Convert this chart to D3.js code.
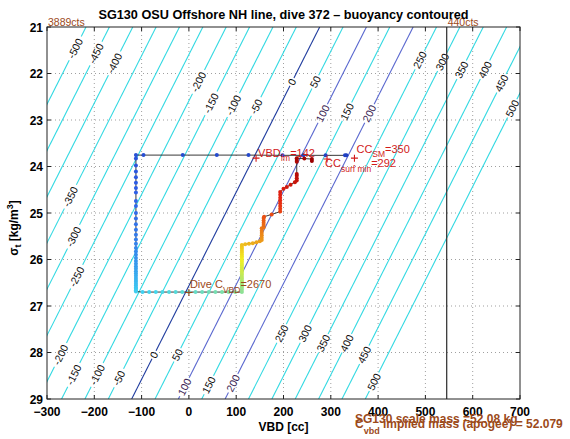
<!DOCTYPE html>
<html><head><meta charset="utf-8">
<script src="https://cdn.jsdelivr.net/npm/d3@7/dist/d3.min.js"></script>
<style>
body{margin:0;background:#fff;}
svg text{font-family:"Liberation Sans",Arial,Helvetica,sans-serif;}
</style></head>
<body>
<svg id="chart" width="570" height="439"></svg>
<script>
// ---------------- data ----------------
const xTicks = [-300,-200,-100,0,100,200,300,400,500,600,700];
const yTicks = [21,22,23,24,25,26,27,28,29];
const contourLevels = [-500,-450,-400,-350,-300,-250,-200,-150,-100,-50,0,50,100,150,200,250,300,350,400,450,500];
const contourVbdAtSigma21 = [-217.5,-168.1,-118.7,-69.3,-19.9,29.5,78.9,128.3,177.7,227.1,276.5,325.9,375.3,424.7,474.1,523.5,572.9,622.3,671.7,721.1,770.5];
const contourVbdAtSigma29 = [-615,-565.6,-516.2,-466.8,-417.4,-368,-318.6,-269.2,-219.8,-170.4,-121,-71.6,-22.2,27.2,76.6,126,175.4,224.8,274.2,323.6,373];
const contourLabelLevels = [-500,-450,-400,-200,-150,-100,-50,0,50,100,150,200,250,300,350,400,450,500,
                            -350,-300,-250,-200,-150,-100,-50,0,50,100,150,200,250,300,350,400,450,500];
const contourLabelSigma  = [21.46,21.57,21.78,22.18,22.64,22.68,22.71,22.18,22.18,22.86,22.82,22.86,21.71,21.75,21.92,21.92,22.21,22.75,
                            24.65,25.51,26.37,28.05,28.48,28.48,28.55,28.05,28.05,28.74,28.70,28.66,27.59,27.59,27.80,27.80,28.05,28.63];
const traceVbd = [333,330,289,242,198,126,59,-13,-96,-112,
  -112,-112,-112,-112,-112,-112,-112,-112,-112,-112,-112,-112,-112,-112,-112,-112,-112,-112,
  -112,-112,-112,-112,-112,-112,-112,-112,-112,-112,-112,-112,-112,-112,-112,-112,-112,-112,
  -98,-84,-70,-56,-42,-28,-14,0,14,28,42,56,70,84,98,112,
  112,112,112,112,112,112,112,112,112,112,112,112,112,112,112,112,112,112,112,112,112,112,112,112,112,
  119,127,135,143,150,154,
  154,154,154,154,154,
  158,158,158,158,158,159,
  175,
  193,193,193,193,193,193,193,193,
  200,207,215,224,
  228,228,228,228,
  228,228,228,244,260,260];
const traceSigma = [23.76,23.76,23.76,23.76,23.76,23.755,23.755,23.755,23.755,23.755,
  23.83,23.98,24.11,24.23,24.35,24.46,24.56,24.74,24.85,25.0,25.12,25.24,25.36,25.47,25.57,25.66,25.75,25.83,
  25.9,25.97,26.03,26.09,26.15,26.2,26.25,26.3,26.35,26.4,26.44,26.48,26.52,26.56,26.6,26.63,26.66,26.69,
  26.7,26.7,26.7,26.7,26.7,26.7,26.7,26.7,26.7,26.7,26.7,26.7,26.7,26.7,26.7,26.7,
  26.65,26.61,26.57,26.53,26.49,26.45,26.41,26.37,26.33,26.29,26.25,26.21,26.17,26.13,26.09,26.05,26.01,25.97,25.93,25.89,25.85,25.81,25.77,25.73,25.69,
  25.67,25.66,25.65,25.63,25.61,25.58,
  25.53,25.48,25.43,25.38,25.33,
  25.31,25.26,25.21,25.16,25.11,25.08,
  25.03,
  24.97,24.91,24.85,24.79,24.73,24.67,24.61,24.55,
  24.48,24.44,24.39,24.34,
  24.3,24.25,24.2,24.16,
  23.9,23.86,23.82,23.83,23.84,23.88];
const markName  = ["VBD","CC","CC","Dive C"];
const markSub   = ["fm","surf min","SM","VBD"];
const markValue = ["=142","=292","=350","=2670"];
const markVbd   = [142,292,350,0];
const markSigma = [23.82,23.84,23.82,26.71];
const countLineVbd = 545;
const countLabels = ["3889cts","440cts"];

// ---------------- layout ----------------
const X0=47, X1=520, Y0=27, Y1=399;
const svg = d3.select("#chart");
const x = d3.scaleLinear().domain([-300,700]).range([X0,X1]);
const y = d3.scaleLinear().domain([21,29]).range([Y0,Y1]);
const cyan="#33d9e2", navy="#1f3c9e", slate="#5a68cf", red="#d21a1a", brown="#9c4a1a";

const defs = svg.append("defs");
defs.append("clipPath").attr("id","plotClip").append("rect")
  .attr("x",X0).attr("y",Y0).attr("width",X1-X0).attr("height",Y1-Y0);

// grid
const grid = svg.append("g").attr("stroke","#777").attr("stroke-width",0.7).attr("stroke-dasharray","1,3");
grid.selectAll("line.gx").data(xTicks.slice(1,-1)).join("line")
  .attr("x1",d=>x(d)).attr("x2",d=>x(d)).attr("y1",Y0).attr("y2",Y1);
grid.selectAll("line.gy").data(yTicks.slice(1,-1)).join("line")
  .attr("y1",d=>y(d)).attr("y2",d=>y(d)).attr("x1",X0).attr("x2",X1);

// contour data
const contours = contourLevels.map((lev,i)=>({lev, v21:contourVbdAtSigma21[i], v29:contourVbdAtSigma29[i]}));
const cmap = new Map(contours.map(c=>[c.lev,c]));
const labels = contourLabelLevels.map((lev,i)=>{
  const c = cmap.get(lev), s = contourLabelSigma[i];
  const v = c.v29 + (c.v21 - c.v29)*(29 - s)/8;
  const ang = Math.atan2(y(21)-y(29), x(c.v21)-x(c.v29))*180/Math.PI;
  return {lev, cx:x(v), cy:y(s), ang};
});

// mask to break contour lines under labels
const mask = defs.append("mask").attr("id","lblMask").attr("maskUnits","userSpaceOnUse")
  .attr("x",0).attr("y",0).attr("width",570).attr("height",439);
mask.append("rect").attr("width",570).attr("height",439).attr("fill","#fff");
mask.selectAll("rect.h").data(labels).join("rect")
  .attr("x",d=>-(String(d.lev).length*5.9+3)/2).attr("y",-5)
  .attr("width",d=>String(d.lev).length*5.9+3).attr("height",10)
  .attr("transform",d=>`translate(${d.cx},${d.cy}) rotate(${d.ang})`).attr("fill","#000");

const cg = svg.append("g").attr("clip-path","url(#plotClip)");
cg.append("g").attr("mask","url(#lblMask)").selectAll("line").data(contours).join("line")
  .attr("x1",d=>x(d.v29)).attr("y1",y(29)).attr("x2",d=>x(d.v21)).attr("y2",y(21))
  .attr("stroke",d=>d.lev===0?navy:(d.lev===100||d.lev===200)?slate:cyan)
  .attr("stroke-width",1.1);

svg.append("g").selectAll("text").data(labels).join("text")
  .attr("transform",d=>`translate(${d.cx},${d.cy}) rotate(${d.ang})`)
  .attr("text-anchor","middle").attr("dy","0.36em").attr("font-size",10.5)
  .attr("fill",d=>(d.lev===100||d.lev===200)?"#3c1f55":"#111")
  .text(d=>d.lev);

// count line
svg.append("line").attr("x1",x(countLineVbd)).attr("x2",x(countLineVbd)).attr("y1",Y0).attr("y2",Y1)
  .attr("stroke","#3a3a3a").attr("stroke-width",1.3);

// trace
const N = traceVbd.length;
const pts = traceVbd.map((v,i)=>({v, s:traceSigma[i], t:i/(N-1)}));
const jet = d3.scaleLinear().domain([0,0.125,0.375,0.625,0.875,1])
  .range(["#1f3fbf","#2f5fe8","#3fd6f2","#f2f020","#e62212","#9a0000"]);
svg.append("path").datum(pts)
  .attr("d",d3.line().x(d=>x(d.v)).y(d=>y(d.s)))
  .attr("fill","none").attr("stroke","#222").attr("stroke-width",0.9);
svg.append("g").selectAll("circle").data(pts).join("circle")
  .attr("cx",d=>x(d.v)).attr("cy",d=>y(d.s)).attr("r",2).attr("fill",d=>jet(d.t));

// annotation markers
const marks = markVbd.map((v,i)=>({v, s:markSigma[i], name:markName[i], sub:markSub[i], val:markValue[i], col:i===3?brown:red}));
const plus = "M-3.5,0H3.5M0,-3.5V3.5";
svg.append("g").selectAll("path").data(marks).join("path")
  .attr("transform",d=>`translate(${x(d.v)},${y(d.s)})`).attr("d",plus)
  .attr("stroke",d=>d.col).attr("stroke-width",1.1).attr("fill","none");
const offs = [[2,-1.5],[-2,8],[2,-5.5],[1,-4.5]];
marks.forEach((d,i)=>{
  const t = svg.append("text").attr("x",x(d.v)+offs[i][0]).attr("y",y(d.s)+offs[i][1])
    .attr("fill",d.col).attr("font-size",11);
  t.append("tspan").text(d.name);
  t.append("tspan").attr("font-size",8.5).attr("dy",4.5).text(d.sub);
  t.append("tspan").attr("dy",-4.5).text(d.val);
});

// box & ticks
svg.append("rect").attr("x",X0).attr("y",Y0).attr("width",X1-X0).attr("height",Y1-Y0)
  .attr("fill","none").attr("stroke","#222").attr("stroke-width",1);
const tk = svg.append("g").attr("stroke","#222").attr("stroke-width",1);
tk.selectAll("line.xb").data(xTicks).join("line").attr("x1",d=>x(d)).attr("x2",d=>x(d)).attr("y1",Y1).attr("y2",Y1-4);
tk.selectAll("line.xt").data(xTicks).join("line").attr("x1",d=>x(d)).attr("x2",d=>x(d)).attr("y1",Y0).attr("y2",Y0+4);
tk.selectAll("line.yl").data(yTicks).join("line").attr("y1",d=>y(d)).attr("y2",d=>y(d)).attr("x1",X0).attr("x2",X0+4);
tk.selectAll("line.yr").data(yTicks).join("line").attr("y1",d=>y(d)).attr("y2",d=>y(d)).attr("x1",X1).attr("x2",X1-4);

const fmt = d => d<0 ? "\u2212"+(-d) : String(d);
svg.append("g").selectAll("text").data(xTicks).join("text")
  .attr("x",d=>x(d)).attr("y",Y1+17).attr("text-anchor","middle")
  .attr("font-size",12).attr("font-weight","bold").text(fmt);
svg.append("g").selectAll("text").data(yTicks).join("text")
  .attr("x",X0-4).attr("y",d=>y(d)+4.5).attr("text-anchor","end")
  .attr("font-size",12).attr("font-weight","bold").text(d=>d);

// count labels
svg.append("text").attr("x",X0+1).attr("y",Y0-1.5).attr("fill",brown).attr("font-size",10.5).text(countLabels[0]);
svg.append("text").attr("x",x(countLineVbd)+1).attr("y",Y0-1.5).attr("fill",brown).attr("font-size",10.5).text(countLabels[1]);

// title & axis labels
svg.append("text").attr("x",(X0+X1)/2).attr("y",19).attr("text-anchor","middle")
  .attr("font-size",12.7).attr("font-weight","bold").text("SG130 OSU Offshore NH line, dive 372 \u2013 buoyancy contoured");
svg.append("text").attr("x",(X0+X1)/2).attr("y",431).attr("text-anchor","middle")
  .attr("font-size",12).attr("font-weight","bold").text("VBD [cc]");
const yl = svg.append("text").attr("transform","translate(18,228) rotate(-90)").attr("text-anchor","middle")
  .attr("font-size",12).attr("font-weight","bold");
yl.append("tspan").text("\u03c3");
yl.append("tspan").attr("font-size",9).attr("dy",3).text("t");
yl.append("tspan").attr("dy",-3).text(" [kg/m");
yl.append("tspan").attr("font-size",9).attr("dy",-5).text("3");
yl.append("tspan").attr("dy",5).text("]");

// bottom notes (overlapping, as in the original)
svg.append("text").attr("x",355).attr("y",423).attr("fill",brown).attr("font-size",12).attr("font-weight","bold")
  .text("SG130 scale mass =52.08 kg");
const n2 = svg.append("text").attr("x",355).attr("y",428).attr("fill",brown).attr("font-size",12).attr("font-weight","bold");
n2.append("tspan").text("C");
n2.append("tspan").attr("font-size",9).attr("dy",6).text("vbd");
n2.append("tspan").attr("dy",-6).text(" implied mass (apogee) = 52.079");
</script>
</body></html>
